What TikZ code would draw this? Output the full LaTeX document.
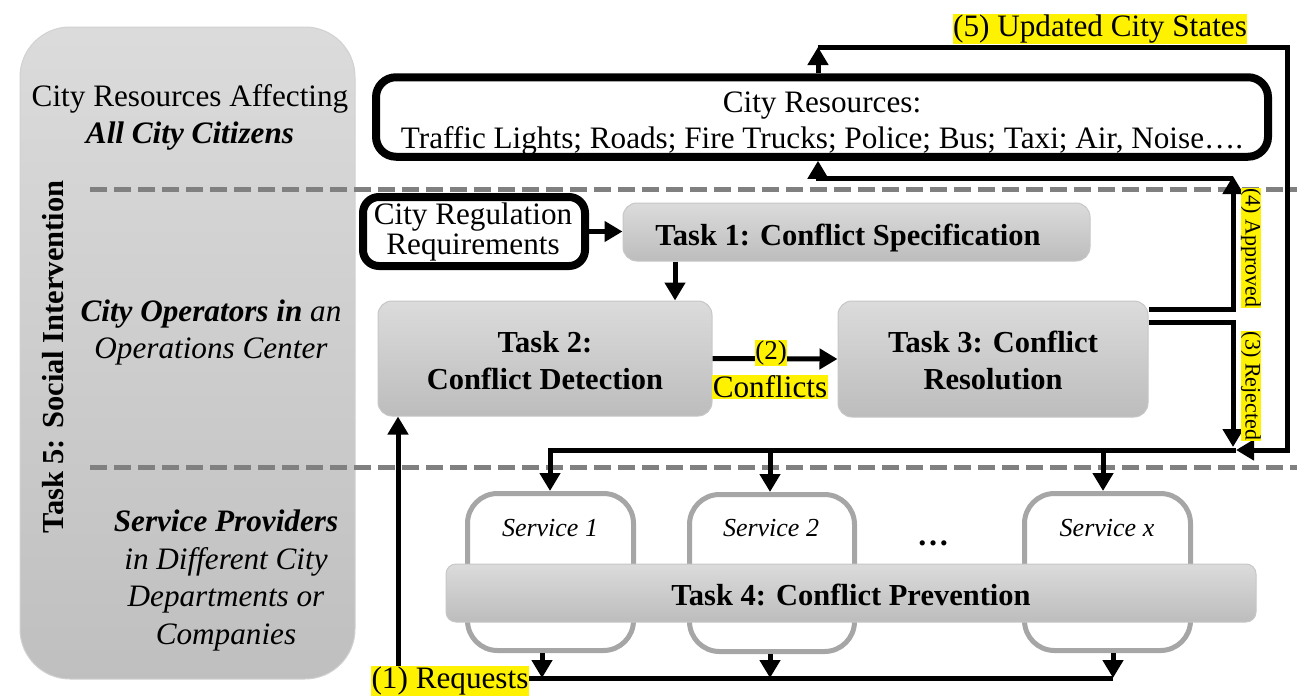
\documentclass[tikz,border=0pt]{standalone}
\usepackage{fontspec}
\setmainfont{Liberation Serif}
\usetikzlibrary{arrows.meta}
\newcommand{\szBig}{\fontsize{30.5}{37}\selectfont}
\newcommand{\szReg}{\fontsize{31.2}{37}\selectfont}
\newcommand{\szMid}{\fontsize{26}{31}\selectfont}
\newcommand{\szSmall}{\fontsize{22}{26}\selectfont}
\begin{document}
\begin{tikzpicture}[x=1pt,y=-1pt,
  arr/.style={line width=5pt, -{Triangle[width=20pt,length=18pt]}},
  task/.style={draw=black!22, line width=1pt, rounded corners=14pt, top color=black!14, bottom color=black!26, inner sep=0pt},
  tasktext/.style={align=center, font=\bfseries\szBig, inner sep=0pt},
  blackbox/.style={draw=black, line width=8pt, fill=white, rounded corners=20pt, inner sep=0pt},
  service/.style={draw=black!35, line width=5pt, fill=white, rounded corners=30pt, minimum width=166pt, minimum height=157pt, inner sep=0pt},
  hl/.style={fill=yellow, inner sep=0.5pt},
  divider/.style={draw=black!50, line width=5pt, dash pattern=on 17pt off 7pt},
  paneltext/.style={align=center, font=\szReg, inner sep=0pt}
]
\useasboundingbox (0,0) rectangle (1297,696);

% left panel
\node[draw=black!18, line width=1pt, rounded corners=50pt, top color=black!14, bottom color=black!25, minimum width=335pt, minimum height=652pt, inner sep=0pt] (panel) at (187.5,353) {};
\node[paneltext] (lp1) at (190,117.5) {City Resources Affecting\\\textbf{\textit{All City Citizens}}};
\node[paneltext] (lp2) at (211,332.5) {\textbf{\textit{City Operators in}} \textit{an}\\\textit{Operations Center}};
\node[paneltext, font=\itshape\fontsize{31.2}{37.5}\selectfont] (lp3) at (226,580.5) {\textbf{Service Providers}\\in Different City\\Departments or\\Companies};
\node[tasktext, rotate=90] (t5) at (53,357) {Task 5: Social Intervention};

% dividers
\coordinate (dv1a) at (90,189);
\coordinate (dv1b) at (1297,189);
\coordinate (dv2a) at (90,467);
\coordinate (dv2b) at (1297,467);
\draw[divider] (dv1a) -- (dv1b);
\draw[divider] (dv2a) -- (dv2b);

% boxes
\node[blackbox, minimum width=892pt, minimum height=79.5pt] (res) at (822,117) {};
\node[align=center, font=\fontsize{31.2}{36}\selectfont, inner sep=0pt] (rest) at (822,124) {City Resources:\\Traffic Lights; Roads; Fire Trucks; Police; Bus; Taxi; Air, Noise….};
\node[blackbox, rounded corners=16pt, minimum width=222pt, minimum height=69pt] (crr) at (474,231.5) {};
\node[align=center, font=\fontsize{31.2}{30}\selectfont, inner sep=0pt] (crrt) at (473,232) {City Regulation\\Requirements};
\node[task, minimum width=467pt, minimum height=58pt] (t1) at (856.5,232) {};
\node[tasktext] (t1t) at (848,238) {Task 1: Conflict Specification};
\node[task, minimum width=334pt, minimum height=115pt] (t2) at (545,358.5) {};
\node[tasktext] (t2t) at (545,361) {Task 2:\\Conflict Detection};
\node[task, minimum width=310pt, minimum height=116pt] (t3) at (993,359) {};
\node[tasktext] (t3t) at (993,360) {Task 3: Conflict\\Resolution};

\node[service] (s1) at (550.5,572) {};
\node[service, minimum width=165pt] (s2) at (772,573) {};
\node[service] (sx) at (1107.5,572) {};
\node[font=\itshape\szMid] (s1t) at (550,528) {Service 1};
\node[font=\itshape\szMid] (s2t) at (771,528) {Service 2};
\node[font=\itshape\szMid] (sxt) at (1107,528) {Service x};
\node[font=\bfseries\fontsize{32}{36}\selectfont, anchor=base] (dots) at (933,545) {…};
\node[task, rounded corners=10pt, minimum width=810pt, minimum height=58pt] (t4) at (851,593) {};
\node[tasktext] (t4t) at (851,595) {Task 4: Conflict Prevention};

% coordinates
\coordinate (xA) at (818,47);
\coordinate (xB) at (1287,47);
\coordinate (xC) at (1287,450);
\coordinate (xD) at (1236,450);
\coordinate (xE) at (1233,176);
\coordinate (xE2) at (1233,178);
\coordinate (xF) at (818,178);
\coordinate (xG) at (1233,309);
\coordinate (xH) at (1233,322);
\coordinate (xI) at (1233,447);
\coordinate (b1) at (550,450);
\coordinate (b2) at (770,450);
\coordinate (b3) at (1103,450);
\coordinate (d1) at (542,678);
\coordinate (d2) at (770,678);
\coordinate (d3) at (1113,678);
\coordinate (r1) at (398,678);
\coordinate (c12) at (675,0);

% connectors
\draw[arr] (res.north -| xA) -- (xA);
\draw[arr] (xA) -- (xB) -- (xC) -- (xD);
\draw[arr] (t3.east |- xG) -- (xG) -- (xE);
\draw[arr] (xE2) -- (xF) -- (res.south -| xF);
\draw[arr] (t3.east |- xH) -- (xH) -- (xI);
\draw[arr] (xD) -- (b1) -- (s1.north -| b1);
\draw[arr] (b2) -- (s2.north -| b2);
\draw[arr] (b3) -- (sx.north -| b3);
\draw[arr] (crr.east) -- (crr.east -| t1.west);
\draw[arr] (t1.south -| c12) -- (t2.north -| c12);
\draw[arr] (t2.east) -- (t3.west);
\draw[arr] (s1.south -| d1) -- (d1);
\draw[arr] (s2.south -| d2) -- (d2);
\draw[arr] (sx.south -| d3) -- (d3);
\draw[arr] (d3) -- (r1) -- (t2.south -| r1);

% labels
\node[hl, font=\szReg] (lab1) at (450,681) {(1) Requests};
\node[hl, font=\fontsize{27}{30}\selectfont] (lab2a) at (771,353) {(2)};
\node[hl, font=\szReg] (lab2b) at (770,387) {Conflicts};
\node[hl, font=\szReg] (lab5) at (1100,29) {(5) Updated City States};
\node[hl, rotate=-90, font=\szSmall] (lab4) at (1251,248) {(4) Approved};
\node[hl, rotate=-90, font=\szSmall] (lab3) at (1251,386) {(3) Rejected};
\end{tikzpicture}
\end{document}
